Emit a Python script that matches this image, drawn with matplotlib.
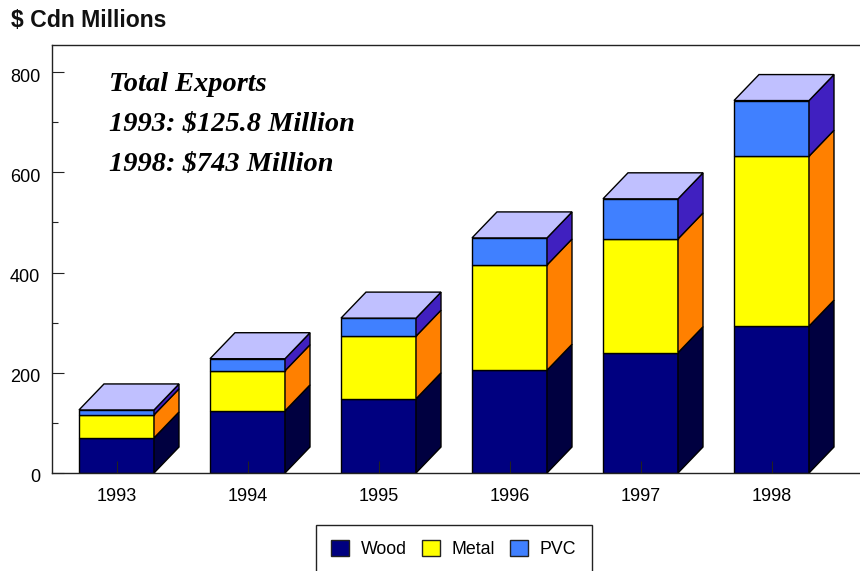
import matplotlib
matplotlib.use("Agg")
import matplotlib.pyplot as plt
from matplotlib.patches import Polygon, Patch
from matplotlib.ticker import MultipleLocator
from matplotlib.transforms import ScaledTranslation

# exportaciones por material, en millones de dolares canadienses
anios = ["1993", "1994", "1995", "1996", "1997", "1998"]
wood = [70, 124, 148, 205, 240, 293]
metal = [46, 80, 125, 210, 227, 339]
pvc = [9.8, 24, 36, 54, 80, 111]

nombres = ["Wood", "Metal", "PVC"]
frente = ["#000080", "#FFFF00", "#4080FF"]
lateral = ["#000040", "#FF8000", "#4020C0"]
tapa = "#C0C0FF"

plt.rcParams["font.family"] = ["Liberation Sans", "DejaVu Sans"]

W, H = 860, 571
fig = plt.figure(figsize=(W / 100, H / 100), dpi=100)
ax = fig.add_axes([52 / W, 1 - 473 / H, (W - 52) / W, (473 - 45) / H])

# una categoria mide 131 px y 100 unidades miden 50.1 px
ax.set_xlim((52 - 116.5) / 131, (W - 116.5) / 131)
ax.set_ylim(0, (473 - 45) / 0.50125)

ancho = 75 / 131
dx = 25 / 131
dy = 26 / 0.50125
borde = dict(edgecolor="black", linewidth=1.0, joinstyle="miter")

# barras apiladas con cara frontal, lateral y tapa
for i in range(len(anios)):
    x0 = i - ancho / 2
    x1 = i + ancho / 2
    base = 0
    for serie, c_frente, c_lado in zip([wood, metal, pvc], frente, lateral):
        alto = base + serie[i]
        ax.add_patch(Polygon([(x0, base), (x1, base), (x1, alto), (x0, alto)],
                             facecolor=c_frente, zorder=2, **borde))
        ax.add_patch(Polygon([(x1, base), (x1 + dx, base + dy), (x1 + dx, alto + dy), (x1, alto)],
                             facecolor=c_lado, zorder=2, **borde))
        base = alto
    ax.add_patch(Polygon([(x0, base), (x1, base), (x1 + dx, base + dy), (x0 + dx, base + dy)],
                         facecolor=tapa, zorder=2, **borde))

ax.set_xticks(range(len(anios)))
ax.set_xticklabels(anios)
ax.yaxis.set_major_locator(MultipleLocator(200))
ax.yaxis.set_minor_locator(MultipleLocator(100))
ax.tick_params(axis="x", direction="in", length=8.5, width=0.8, labelsize=13, pad=11, color="#222222")
ax.tick_params(axis="y", which="major", direction="in", length=8.5, width=0.8, labelsize=13, pad=8.5, color="#222222")
ax.tick_params(axis="y", which="minor", direction="in", length=4.2, width=0.8, color="#222222")
ax.set_axisbelow(False)

# las etiquetas del eje y quedan un poco por debajo de su marca
bajar = ScaledTranslation(0, -3 / 72 * 72 / 100, fig.dpi_scale_trans)
for etiqueta in ax.get_yticklabels():
    etiqueta.set_transform(etiqueta.get_transform() + bajar)

ax.spines["right"].set_visible(False)
for lado in ["top", "left", "bottom"]:
    ax.spines[lado].set_linewidth(1.0)
    ax.spines[lado].set_color("#222222")

fig.text(11 / W, 1 - 27 / H, "$ Cdn Millions", fontsize=16.6, fontweight="bold", color="#111111")

# texto con los totales
lineas = ["Total Exports", "1993: $125.8 Million", "1998: $743 Million"]
for linea, y_px in zip(lineas, [91, 131, 171]):
    fig.text(109 / W, 1 - y_px / H, linea.replace("$", r"\$"), fontsize=20.4,
             family=["Liberation Serif"], style="italic", fontweight="bold", color="black")

handles = [Patch(facecolor=c, edgecolor="#222222", linewidth=1.0) for c in frente]
fig.legend(handles, nombres, ncols=3, loc="upper left", bbox_to_anchor=(316 / W, 1 - 525 / H),
           bbox_transform=fig.transFigure, borderaxespad=0, fancybox=False, framealpha=1,
           edgecolor="#222222", fontsize=12.8, handlelength=1.0, handleheight=1.0,
           handletextpad=0.67, columnspacing=0.85, borderpad=0.85)

plt.savefig("out.png", dpi=100)
